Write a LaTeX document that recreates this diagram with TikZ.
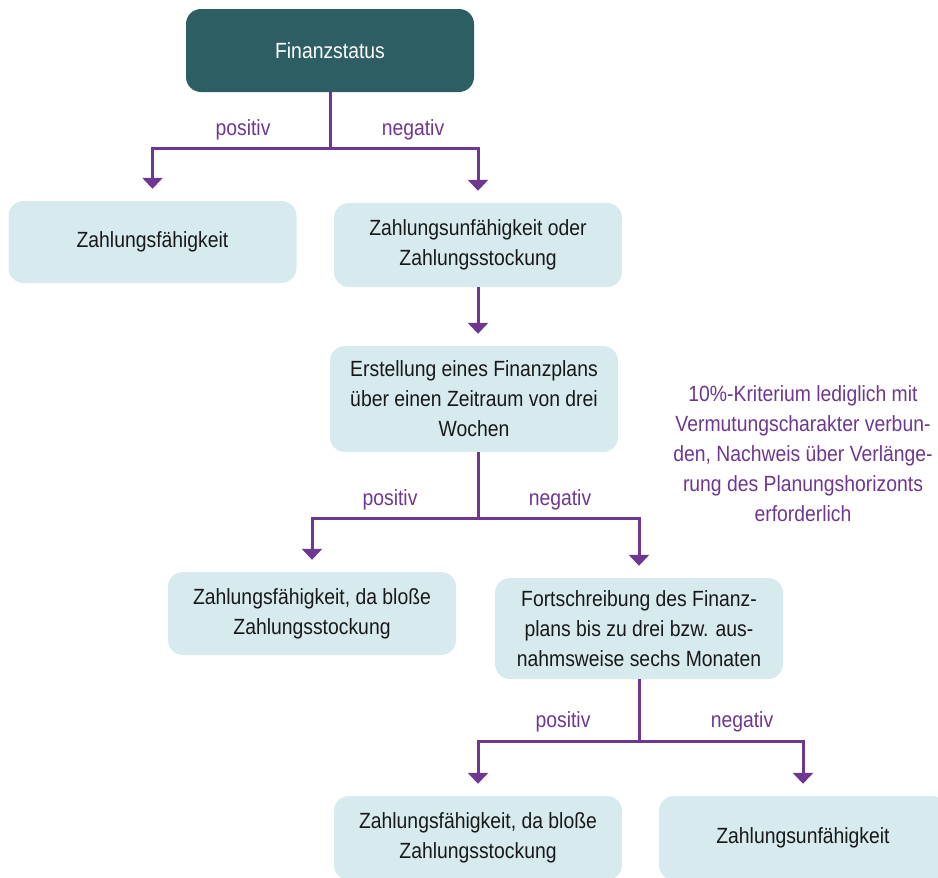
\documentclass[tikz,border=0pt]{standalone}
\usepackage{fontspec}
\setmainfont{Liberation Sans}[FakeStretch=0.88]
\usetikzlibrary{positioning, arrows.meta}
\definecolor{statusteal}{HTML}{2D5E63}
\definecolor{boxblue}{HTML}{D7EAEE}
\definecolor{flowpurple}{HTML}{6E3790}

\begin{document}
\begin{tikzpicture}[x=1pt, y=-1pt,
    font=\fontsize{22}{30}\selectfont,
    box/.style={rectangle, rounded corners=15pt, fill=boxblue, text=black!90,
        minimum width=288pt, align=center, inner sep=0pt},
    topbox/.style={box, fill=statusteal, text=white},
    lab/.style={text=flowpurple, inner sep=0pt},
    arr/.style={draw=flowpurple, line width=3pt, -{Triangle[width=20pt, length=11pt]}, shorten >=12pt}]
            \useasboundingbox (0,0) rectangle (938,878);
            \clip (0,0) rectangle (938,878);
            \node[topbox, minimum height=83pt] (fin) at (330,50.5) {Finanzstatus};
            \node[box, minimum height=82pt] (zf) at (152.5,242) {Zahlungsfähigkeit};
            \node[box, minimum height=84pt] (zu) at (478,245) {Zahlungsunfähigkeit oder\\Zahlungsstockung};
            \node[box, minimum height=106pt] (plan) at (474,399) {Erstellung eines Finanzplans\\über einen Zeitraum von drei\\Wochen};
            \node[box, minimum height=83pt] (zfst) at (312,613.5) {Zahlungsfähigkeit, da bloße\\Zahlungsstockung};
            \node[box, minimum height=101pt] (fort) at (639,628.5) {Fortschreibung des Finanz-\\plans bis zu drei bzw. aus-\\nahmsweise sechs Monaten};
            \node[box, minimum height=84pt] (zfst2) at (478,838) {Zahlungsfähigkeit, da bloße\\Zahlungsstockung};
            \node[box, minimum height=84pt] (zu2) at (803,838) {Zahlungsunfähigkeit};
            \node[lab, align=center] (note) at (803,454) {10\%-Kriterium lediglich mit\\Vermutungscharakter verbun-\\den, Nachweis über Verlänge-\\rung des Planungshorizonts\\erforderlich};
            \coordinate (s1) at (330,148);
            \coordinate (s2) at (478,518);
            \coordinate (s3) at (639,741);
            \node[lab] (pos1) at (243,130) {positiv};
            \node[lab] (neg1) at (413,130) {negativ};
            \node[lab] (pos2) at (390,500) {positiv};
            \node[lab] (neg2) at (560,500) {negativ};
            \node[lab] (pos3) at (563,722) {positiv};
            \node[lab] (neg3) at (742,722) {negativ};
            \draw[draw=flowpurple, line width=3pt] (fin) -- (s1);
            \draw[arr] (s1) -| (zf);
            \draw[arr] (s1) -| (zu);
            \draw[arr] (zu) -- (zu |- plan.north);
            \draw[draw=flowpurple, line width=3pt] (plan.south -| s2) -- (s2);
            \draw[arr] (s2) -| (zfst);
            \draw[arr] (s2) -| (fort);
            \draw[draw=flowpurple, line width=3pt] (fort) -- (s3);
            \draw[arr] (s3) -| (zfst2);
            \draw[arr] (s3) -| (zu2);
        \end{tikzpicture}
\end{document}
